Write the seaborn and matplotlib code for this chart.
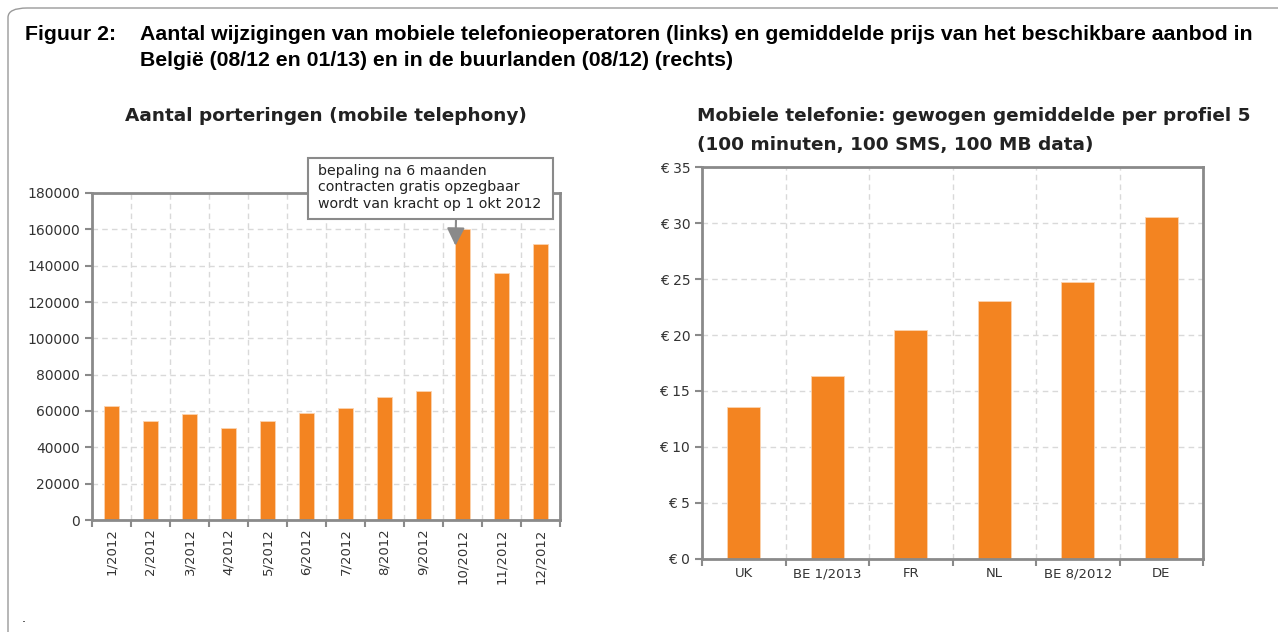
import matplotlib
matplotlib.use("Agg")
import matplotlib.pyplot as plt
import seaborn as sns
import pandas as pd
from matplotlib.patches import FancyBboxPatch, Rectangle

# ---- data ----
months = ["1/2012", "2/2012", "3/2012", "4/2012", "5/2012", "6/2012",
          "7/2012", "8/2012", "9/2012", "10/2012", "11/2012", "12/2012"]
porteringen = [62700, 54500, 58200, 50800, 54500, 58900,
               61500, 67700, 71200, 160000, 136100, 151800]
left_yticks = [0, 20000, 40000, 60000, 80000, 100000, 120000, 140000, 160000, 180000]

countries = ["UK", "BE 1/2013", "FR", "NL", "BE 8/2012", "DE"]
prices = [13.55, 16.3, 20.45, 23.0, 24.7, 30.5]
right_yticks = [0, 5, 10, 15, 20, 25, 30, 35]

ORANGE = "#f38421"
SPINE = "#8a8a8a"
GRID = "#d9d9d9"
TXT = "#333333"

sns.set_theme(style="white")
plt.rcParams["font.family"] = ["DejaVu Sans"]

W, H = 1278, 632
fig = plt.figure(figsize=(W / 100, H / 100), dpi=100)
fig.patch.set_facecolor("white")

def px(x0, y_top, x1, y_bot):
    return [x0 / W, (H - y_bot) / H, (x1 - x0) / W, (y_bot - y_top) / H]

# outer rounded frame (cut at right/bottom)
frame = FancyBboxPatch((8 / W, -0.1), 1.2, (H - 8) / H + 0.1,
                       boxstyle="round,pad=0,rounding_size=0.015",
                       transform=fig.transFigure, facecolor="none",
                       edgecolor="#9a9a9a", linewidth=1.0, clip_on=False)
fig.patches.append(frame)

# header
hdr_font = ["Liberation Sans", "DejaVu Sans"]
HDR = 15.3
fig.text(25 / W, 1 - 35 / H, "Figuur 2:", fontsize=HDR, fontweight="bold",
         family=hdr_font, va="center", ha="left", color="black")
fig.text(140 / W, 1 - 35 / H,
         "Aantal wijzigingen van mobiele telefonieoperatoren (links) en gemiddelde prijs van het beschikbare aanbod in",
         fontsize=HDR, fontweight="bold", family=hdr_font, va="center", ha="left", color="black")
fig.text(140 / W, 1 - 60 / H, "België (08/12 en 01/13) en in de buurlanden (08/12) (rechts)",
         fontsize=HDR, fontweight="bold", family=hdr_font, va="center", ha="left", color="black")
fig.text(22 / W, 1 - 618 / H, ".", fontsize=9, color="black", va="center")

def style_axes(ax, n):
    for s in ax.spines.values():
        s.set_color(SPINE)
        s.set_linewidth(2.0)
        s.set_visible(True)
    ax.set_xlim(-0.5, n - 0.5)
    ax.set_xticks(range(n))
    ax.set_xticks([i - 0.5 for i in range(n + 1)], minor=True)
    ax.tick_params(axis="x", which="major", length=0, colors=TXT, labelsize=9.5, pad=6)
    ax.tick_params(axis="x", which="minor", length=5, width=1.5, color=SPINE, direction="out", bottom=True)
    ax.tick_params(axis="y", which="major", length=5, width=1.5, color=SPINE, direction="out",
                   left=True, labelcolor=TXT, labelsize=10)
    ax.grid(False)
    ax.xaxis.grid(True, which="minor", color=GRID, linestyle=(0, (4, 3)), linewidth=1)
    ax.yaxis.grid(True, which="major", color=GRID, linestyle=(0, (4, 3)), linewidth=1)
    ax.set_axisbelow(True)
    ax.set_xlabel("")
    ax.set_ylabel("")

TITLE = 13.3

# ---- left chart ----
axL = fig.add_axes(px(92, 193, 560, 520))
dfL = pd.DataFrame({"maand": months, "aantal": porteringen})
sns.barplot(data=dfL, x="maand", y="aantal", color=ORANGE, saturation=1,
            width=0.41, ax=axL, edgecolor="#fbd3b0", linewidth=0.6)
style_axes(axL, len(months))
axL.set_ylim(0, 180000)
axL.set_yticks(left_yticks)
axL.set_yticklabels([str(v) for v in left_yticks])
axL.set_xticks(range(len(months)))
axL.set_xticklabels(months, rotation=90)
fig.text(326 / W, 1 - 116 / H, "Aantal porteringen (mobile telephony)", fontsize=TITLE,
         fontweight="bold", color="#222222", va="center", ha="center")

# annotation box + arrow
box = Rectangle((308 / W, (H - 219) / H), (553 - 308) / W, (219 - 158) / H,
                transform=fig.transFigure, facecolor="white", edgecolor=SPINE,
                linewidth=1.5, zorder=9)
fig.patches.append(box)
fig.text(318 / W, 1 - 187.5 / H,
         "bepaling na 6 maanden\ncontracten gratis opzegbaar\nwordt van kracht op 1 okt 2012",
         fontsize=10.2, color="#222222", va="center", ha="left", linespacing=1.25,
         zorder=10)
axL.annotate("", xy=(8.82, 151000), xycoords="data",
             xytext=(456 / W, 1 - 219 / H), textcoords="figure fraction",
             arrowprops=dict(arrowstyle="-|>,head_length=0.9,head_width=0.45",
                             color=SPINE, linewidth=1.5, shrinkA=0, shrinkB=0),
             annotation_clip=False, zorder=11)

# ---- right chart ----
axR = fig.add_axes(px(702, 167, 1203, 559))
dfR = pd.DataFrame({"land": countries, "prijs": prices})
sns.barplot(data=dfR, x="land", y="prijs", color=ORANGE, saturation=1,
            width=0.4, ax=axR, edgecolor="#fbd3b0", linewidth=0.6)
style_axes(axR, len(countries))
axR.set_ylim(0, 35)
axR.set_yticks(right_yticks)
axR.set_yticklabels([f"€ {v}" for v in right_yticks])
axR.set_xticks(range(len(countries)))
axR.set_xticklabels(countries, rotation=0)
fig.text(697 / W, 1 - 116 / H, "Mobiele telefonie: gewogen gemiddelde per profiel 5",
         fontsize=TITLE, fontweight="bold", color="#222222", va="center", ha="left")
fig.text(697 / W, 1 - 145 / H, "(100 minuten, 100 SMS, 100 MB data)",
         fontsize=TITLE, fontweight="bold", color="#222222", va="center", ha="left")

fig.savefig("out.png", dpi=100, facecolor="white")
